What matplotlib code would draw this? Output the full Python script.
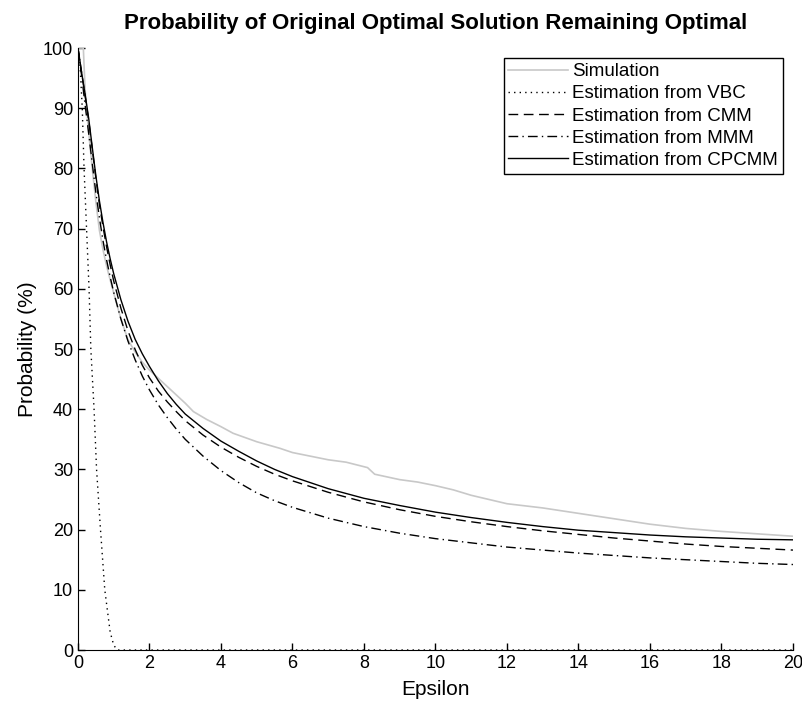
import numpy as np
import matplotlib
matplotlib.use("Agg")
import matplotlib.pyplot as plt

plt.rcParams['font.family'] = ['Liberation Sans', 'DejaVu Sans']

# Simulation (light gray)
sim_x = [0, 0.15, 0.2, 0.3, 0.4, 0.5, 0.6, 0.7, 0.8, 0.9, 1.0, 1.2, 1.4, 1.6, 1.8, 2.0, 2.29,
         2.6, 3.0, 3.23, 3.6, 4.0, 4.34, 5.0, 5.65, 6.0, 6.5, 7.0, 7.5, 8.1, 8.3, 9.0, 9.5,
         10.0, 10.5, 11.0, 11.5, 12.0, 13.0, 14.0, 15.0, 16.0, 17.0, 18.0, 19.0, 20.0]
sim_y = [100, 100, 93, 86, 80, 74.5, 69.7, 66.5, 63.8, 61.5, 59.3, 55, 51.5, 49.5, 47.8, 46.5, 44.9,
         43.2, 41, 39.6, 38.3, 37.1, 36, 34.6, 33.5, 32.8, 32.2, 31.6, 31.2, 30.3, 29.2, 28.3, 27.9,
         27.3, 26.6, 25.7, 25, 24.3, 23.6, 22.7, 21.8, 20.9, 20.2, 19.7, 19.3, 18.9]

# Estimation from VBC (dotted)
vbc_x = [0, 0.05, 0.12, 0.17, 0.24, 0.31, 0.36, 0.45, 0.52, 0.63, 0.75, 0.9, 1.0, 1.1, 20]
vbc_y = [100, 98, 90, 80, 70, 60, 50, 40, 30, 20, 10, 3, 0.8, 0, 0]

# common x grid used for the three estimation curves
est_x = [0, 0.1, 0.2, 0.3, 0.4, 0.5, 0.6, 0.7, 0.8, 0.9, 1.0, 1.2, 1.4, 1.6, 1.8, 2.0, 2.25,
         2.5, 2.75, 3.0, 3.5, 4, 4.5, 5, 5.5, 6, 7, 8, 9, 10, 11, 12, 13, 14, 15, 16, 17, 18, 19, 20]

# Estimation from CMM (dashed)
cmm_y = [100, 96, 92, 88, 83.2, 78.4, 74, 70.3, 67, 64, 61.3, 56.8, 53, 49.9, 47.3, 45.2, 43,
         41.2, 39.6, 38.1, 35.7, 33.7, 32, 30.5, 29.2, 28.1, 26.2, 24.6, 23.3, 22.2, 21.3, 20.5,
         19.8, 19.2, 18.6, 18.1, 17.6, 17.2, 16.9, 16.6]

# Estimation from MMM (dash-dot)
mmm_y = [100, 95.5, 90.5, 85.8, 80.8, 76, 71.8, 68, 64.8, 62, 59.4, 55, 51.3, 48.2, 45.5, 43.2, 40.7,
         38.6, 36.7, 35, 32.2, 29.8, 27.8, 26.1, 24.8, 23.7, 21.9, 20.5, 19.4, 18.5, 17.8, 17.1,
         16.6, 16.1, 15.7, 15.3, 15, 14.7, 14.4, 14.2]

# Estimation from CPCMM (solid)
cp_y = [100, 96, 92.3, 88.3, 83.5, 78.8, 74.6, 71, 67.8, 65, 62.5, 58.2, 54.6, 51.6, 49.2, 47.1, 44.7,
        42.6, 40.8, 39.2, 36.8, 34.7, 33, 31.4, 30, 28.8, 26.8, 25.2, 24, 22.9, 22, 21.2,
        20.5, 19.9, 19.5, 19.1, 18.8, 18.6, 18.4, 18.3]

fig = plt.figure(figsize=(8.03, 7.04), dpi=100)
ax = fig.add_axes([0.0971, 0.0767, 0.8904, 0.8551])

ax.plot(sim_x, sim_y, color='#c8c8c8', lw=1.2, label='Simulation')
ax.plot(vbc_x, vbc_y, color='black', lw=1.0, linestyle=(0, (1, 3)), label='Estimation from VBC')
ax.plot(est_x, cmm_y, color='black', lw=1.0, linestyle=(0, (7, 4)), label='Estimation from CMM')
ax.plot(est_x, mmm_y, color='black', lw=1.0, linestyle=(0, (7, 3, 1, 3)), label='Estimation from MMM')
ax.plot(est_x, cp_y, color='black', lw=1.0, label='Estimation from CPCMM')

ax.set_xlim(0, 20)
ax.set_ylim(0, 100)
ax.set_xticks(np.arange(0, 21, 2))
ax.set_yticks(np.arange(0, 101, 10))
ax.spines['top'].set_visible(False)
ax.spines['right'].set_visible(False)
ax.tick_params(direction='in', length=5, labelsize=13, width=1)

ax.set_xlabel('Epsilon', fontsize=15, labelpad=6)
ax.set_ylabel('Probability (%)', fontsize=15, labelpad=4)
ax.set_title('Probability of Original Optimal Solution Remaining Optimal',
             fontsize=16, fontweight='bold', pad=14)

leg = ax.legend(loc='upper right', fontsize=13.5, fancybox=False, framealpha=1,
                edgecolor='black', handlelength=3.2, borderaxespad=0.55,
                labelspacing=0.27, handletextpad=0.2, borderpad=0.25)
leg.get_frame().set_linewidth(1.0)

fig.savefig('out.png', dpi=100)
